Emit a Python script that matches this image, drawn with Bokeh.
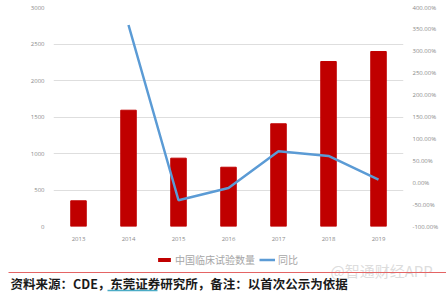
from bokeh.plotting import figure
from bokeh.models import (Range1d, LinearAxis, FixedTicker, NumeralTickFormatter,
                          Legend, LegendItem, ColumnDataSource)
from bokeh.layouts import column
from bokeh.core.properties import value
from bokeh.embed import file_html
from bokeh.resources import INLINE

years = ["2013", "2014", "2015", "2016", "2017", "2018", "2019"]
trials = [352, 1593, 936, 812, 1407, 2260, 2397]
yoy_years = ["2014", "2015", "2016", "2017", "2018", "2019"]
yoy = [3.60, -0.40, -0.12, 0.72, 0.61, 0.07]

left_ticks = [0, 500, 1000, 1500, 2000, 2500, 3000]
right_ticks = [-1.0, -0.5, 0.0, 0.5, 1.0, 1.5, 2.0, 2.5, 3.0, 3.5, 4.0]

series_names = ["中国临床试验数量", "同比"]
source_note = "资料来源：CDE，东莞证券研究所，备注：以首次公示为依据"
watermark = "@智通财经APP"

W = 446
H_MAIN = 246
H_FOOT = 46
FL, FR, FT, FB = 53, 43, 7, 20

BAR_COL = "#C00000"
LINE_COL = "#5B9BD5"

p = figure(x_range=years, y_range=Range1d(0, 3000), width=W, height=H_MAIN,
           output_backend="svg", toolbar_location=None,
           min_border_left=FL, min_border_right=FR, min_border_top=FT, min_border_bottom=FB)
p.frame_align = False
p.outline_line_color = None
p.border_fill_color = "white"
p.extra_y_ranges = {"pct": Range1d(-1.0, 4.0)}

p.vbar(x=years, top=trials, width=0.31, color=BAR_COL)
src = ColumnDataSource(dict(x=yoy_years, y=yoy))
p.line("x", "y", source=src, y_range_name="pct", line_color=LINE_COL, line_width=2.5)

tick_font = "Open Sans"
tick_col = "#8a8a8a"

def style_axis(ax, standoff):
    ax.axis_line_color = None
    ax.major_tick_line_color = None
    ax.minor_tick_line_color = None
    ax.major_label_text_font_size = "6px"
    ax.major_label_text_color = tick_col
    ax.major_label_text_font = tick_font
    ax.major_label_standoff = standoff

ya = p.yaxis[0]
ya.ticker = FixedTicker(ticks=left_ticks)
style_axis(ya, 3)

ra = LinearAxis(y_range_name="pct", ticker=FixedTicker(ticks=right_ticks),
                formatter=NumeralTickFormatter(format="0.00%"))
style_axis(ra, 3)
p.add_layout(ra, "right")

style_axis(p.xaxis[0], 4)

p.xgrid.grid_line_color = None
p.ygrid.grid_line_color = "#dedede"
p.ygrid.grid_line_width = 1
p.ygrid.ticker = FixedTicker(ticks=left_ticks)

# footer figure: legend, red rule, source note, watermark (canvas-pixel coordinates)
Y0 = H_MAIN
f = figure(x_range=Range1d(0, W), y_range=Range1d(Y0 + H_FOOT, Y0), width=W, height=H_FOOT,
           output_backend="svg", toolbar_location=None,
           min_border_left=0, min_border_right=0, min_border_top=0, min_border_bottom=0)
f.frame_align = False
f.axis.visible = False
f.grid.visible = False
f.outline_line_color = None
f.border_fill_color = "white"

# zero-size proxies so the legend can draw its swatches
dummy_bar = f.vbar(x=[200], top=[250], bottom=[250], width=0, fill_color=BAR_COL, line_color=None)
dummy_line = f.line(x=[200, 200], y=[250, 250], line_color=LINE_COL, line_width=2.5)

legend = Legend(items=[LegendItem(label=series_names[0], renderers=[dummy_bar]),
                       LegendItem(label=series_names[1], renderers=[dummy_line])],
                orientation="horizontal", location=(156, H_FOOT - 21),
                glyph_width=16, glyph_height=5, label_text_font_size="10px",
                label_text_color="#a6a6a6", label_text_font="Noto Sans CJK SC",
                label_standoff=3, spacing=4, padding=0, margin=0,
                border_line_color=None, background_fill_alpha=0, label_height=10)
f.add_layout(legend, "center")

f.text(x=[330], y=[270], text=[watermark], text_font=value("Noto Sans CJK SC"),
       text_font_size="15px", text_color="#d4d4d4", text_alpha=0.8, text_baseline="middle")
f.segment(x0=[8], x1=[W], y0=[272], y1=[272], line_color="#E46464", line_width=1)
f.text(x=[10], y=[282.5], text=[source_note], text_font=value("Noto Sans CJK SC"),
       text_font_size="12.5px", text_font_style="bold", text_color="#1a1a1a",
       text_baseline="middle")
f.segment(x0=[107], x1=[157], y0=[290], y1=[290], line_color="#4BACC6", line_width=1.5)

layout = column(p, f, spacing=0)
open("out.html", "w").write(file_html(layout, INLINE))
